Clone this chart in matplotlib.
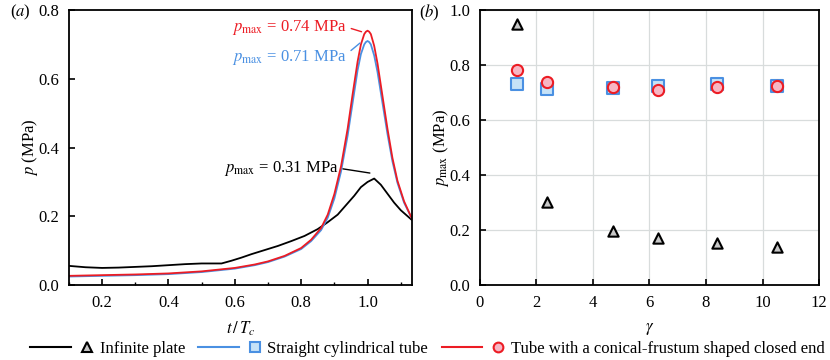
import matplotlib
matplotlib.use("Agg")
import matplotlib.pyplot as plt
from matplotlib.lines import Line2D
from matplotlib.legend_handler import HandlerBase
from matplotlib.ticker import MultipleLocator

plt.rcParams['font.family'] = ['Liberation Serif', 'DejaVu Serif']
plt.rcParams['mathtext.fontset'] = 'stix'
plt.rcParams['font.size'] = 12

# Panel (a): pressure history p(t / Tc)
t_plate = [0.10, 0.15, 0.20, 0.25, 0.30, 0.35, 0.40, 0.45, 0.50, 0.56, 0.59,
           0.62, 0.65, 0.69, 0.73, 0.77, 0.81, 0.85, 0.88, 0.91, 0.94, 0.96,
           0.98, 1.00, 1.02, 1.04, 1.06, 1.08, 1.10, 1.133]
p_plate = [0.056, 0.052, 0.050, 0.051, 0.053, 0.055, 0.058, 0.061, 0.063, 0.063,
           0.071, 0.080, 0.090, 0.102, 0.114, 0.128, 0.143, 0.163, 0.183, 0.205,
           0.238, 0.260, 0.285, 0.300, 0.310, 0.292, 0.266, 0.240, 0.218, 0.190]

t_tube = [0.10, 0.20, 0.30, 0.40, 0.50, 0.60, 0.66, 0.70, 0.75, 0.80, 0.83,
          0.86, 0.88, 0.90, 0.92, 0.94, 0.955, 0.97, 0.98, 0.99, 0.995, 1.00,
          1.005, 1.01, 1.02, 1.03, 1.045, 1.06, 1.075, 1.09, 1.11, 1.133]
p_straight = [0.025, 0.027, 0.029, 0.032, 0.038, 0.048, 0.058, 0.067, 0.083, 0.105,
              0.128, 0.160, 0.196, 0.252, 0.330, 0.435, 0.530, 0.625, 0.672, 0.700,
              0.707, 0.710, 0.707, 0.700, 0.668, 0.620, 0.530, 0.440, 0.360, 0.298,
              0.240, 0.195]
p_frustum = [0.027, 0.029, 0.031, 0.034, 0.040, 0.050, 0.060, 0.069, 0.085, 0.108,
             0.132, 0.166, 0.205, 0.265, 0.345, 0.455, 0.555, 0.650, 0.700, 0.730,
             0.737, 0.740, 0.737, 0.730, 0.696, 0.645, 0.550, 0.455, 0.370, 0.304,
             0.244, 0.195]

# Panel (b): peak pressure vs gamma
gamma = [1.3, 2.37, 4.72, 6.3, 8.4, 10.5]
pmax_plate = [0.951, 0.303, 0.196, 0.172, 0.154, 0.140]
pmax_straight = [0.733, 0.713, 0.716, 0.724, 0.731, 0.725]
pmax_frustum = [0.782, 0.737, 0.719, 0.710, 0.721, 0.725]

labels = ['Infinite plate', 'Straight cylindrical tube',
          'Tube with a conical-frustum shaped closed end']

BLACK = '#000000'
BLUE = '#4a90e2'
RED = '#ec1c24'
FILL_PLATE = '#c8c8c8'
FILL_STRAIGHT = '#c6e2f7'
FILL_FRUSTUM = '#f7b6c4'


class LineThenMarker(HandlerBase):
    """Legend handle: a short line, then the marker a bit to its right."""

    def create_artists(self, legend, orig_handle, xdescent, ydescent,
                       width, height, fontsize, trans):
        line, mk = orig_handle
        y = height / 2 - ydescent
        x0 = -xdescent
        seg = Line2D([x0, x0 + 0.66 * width], [y, y], color=line.get_color(),
                     lw=line.get_linewidth(), transform=trans)
        dot = Line2D([x0 + 0.92 * width], [y], ls='none', marker=mk.get_marker(),
                     markersize=mk.get_markersize(), mfc=mk.get_markerfacecolor(),
                     mec=mk.get_markeredgecolor(), mew=mk.get_markeredgewidth(),
                     transform=trans)
        return [seg, dot]


fig = plt.figure(figsize=(8.3, 3.6), dpi=100)
ax1 = fig.add_axes([0.083, 0.208, 0.413, 0.764])
ax2 = fig.add_axes([0.578, 0.208, 0.409, 0.764])

# ---- panel (a)
ax1.plot(t_plate, p_plate, color=BLACK, lw=1.3)
ax1.plot(t_tube, p_straight, color=BLUE, lw=1.3)
ax1.plot(t_tube, p_frustum, color=RED, lw=1.3)
ax1.set_xlim(0.1, 1.133)
ax1.set_ylim(0, 0.8)
ax1.xaxis.set_major_locator(MultipleLocator(0.2))
ax1.xaxis.set_minor_locator(MultipleLocator(0.1))
ax1.yaxis.set_major_locator(MultipleLocator(0.2))
ax1.set_xlabel(r'$t\,/\,T_c$', labelpad=6)
ax1.set_ylabel(r'$p$ (MPa)', labelpad=-1)

ax1.annotate(r'$p_{\mathrm{max}}$ = 0.74 MPa', xy=(0.982, 0.737), xytext=(0.593, 0.750),
             color=RED, va='center', ha='left',
             arrowprops=dict(arrowstyle='-', color=RED, lw=1.0, shrinkA=1, shrinkB=0,
                             relpos=(1.0, 0.5)))
ax1.annotate(r'$p_{\mathrm{max}}$ = 0.71 MPa', xy=(0.977, 0.704), xytext=(0.593, 0.662),
             color=BLUE, va='center', ha='left',
             arrowprops=dict(arrowstyle='-', color=BLUE, lw=1.0, shrinkA=1, shrinkB=0,
                             relpos=(1.0, 0.7)))
ax1.annotate(r'$p_{\mathrm{max}}$ = 0.31 MPa', xy=(1.007, 0.326), xytext=(0.568, 0.340),
             color=BLACK, va='center', ha='left',
             arrowprops=dict(arrowstyle='-', color=BLACK, lw=1.0, shrinkA=1, shrinkB=0,
                             relpos=(1.0, 0.5)))
fig.text(0.012, 0.965, r'($\it{a}$)', va='center')

# ---- panel (b)
ax2.grid(True, color='#d8dcdc', lw=0.9)
ax2.set_axisbelow(True)
ax2.scatter(gamma, pmax_plate, marker='^', s=55, facecolor=FILL_PLATE,
            edgecolor=BLACK, linewidth=1.5, zorder=3)
ax2.scatter(gamma, pmax_straight, marker='s', s=65, facecolor=FILL_STRAIGHT,
            edgecolor=BLUE, linewidth=1.5, zorder=3)
ax2.scatter(gamma, pmax_frustum, marker='o', s=65, facecolor=FILL_FRUSTUM,
            edgecolor=RED, linewidth=1.5, zorder=4)
ax2.set_xlim(0, 12)
ax2.set_ylim(0, 1.0)
ax2.xaxis.set_major_locator(MultipleLocator(2))
ax2.yaxis.set_major_locator(MultipleLocator(0.2))
ax2.set_xlabel(r'$\gamma$', labelpad=7)
ax2.set_ylabel(r'$p_{\mathrm{max}}$ (MPa)', labelpad=-1)
fig.text(0.505, 0.965, r'($\it{b}$)', va='center')

for ax in (ax1, ax2):
    ax.yaxis.set_major_formatter(plt.FormatStrFormatter('%.1f'))
    ax.tick_params(which='major', direction='in', length=4, width=1.2, labelsize=12, pad=7)
    ax.tick_params(which='minor', direction='in', length=2, width=1.0)
    for sp in ax.spines.values():
        sp.set_linewidth(1.3)
ax2.xaxis.set_major_formatter(plt.FormatStrFormatter('%d'))

# ---- legend
handles = [
    (Line2D([], [], color=BLACK, lw=1.5),
     Line2D([], [], marker='^', markersize=7, mfc=FILL_PLATE, mec=BLACK, mew=1.5)),
    (Line2D([], [], color=BLUE, lw=1.5),
     Line2D([], [], marker='s', markersize=7, mfc=FILL_STRAIGHT, mec=BLUE, mew=1.5)),
    (Line2D([], [], color=RED, lw=1.5),
     Line2D([], [], marker='o', markersize=7, mfc=FILL_FRUSTUM, mec=RED, mew=1.5)),
]
fig.legend(handles, labels, loc='center', bbox_to_anchor=(0.515, 0.03), ncol=3,
           frameon=False, fontsize=12, handlelength=3.7, handletextpad=0.45,
           columnspacing=0.8, borderpad=0,
           handler_map={tuple: LineThenMarker()})

fig.savefig('out.png', dpi=100)
